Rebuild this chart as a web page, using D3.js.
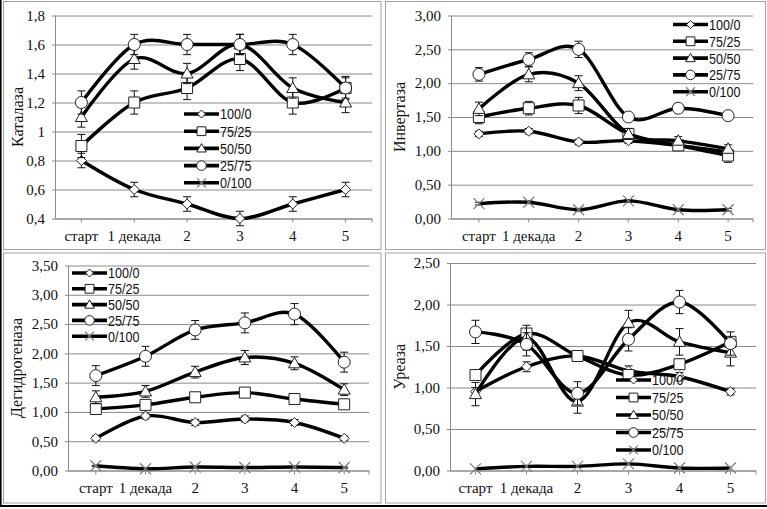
<!DOCTYPE html>
<html><head><meta charset="utf-8">
<script src="https://cdn.jsdelivr.net/npm/d3@7"></script>
<style>
html,body{margin:0;padding:0;background:#fff;}
svg{display:block;}
.serif{font-family:"Liberation Serif","Times New Roman","DejaVu Serif","Noto Serif",serif !important;}
.narrow{font-family:"Liberation Sans Narrow","Arial Narrow","Liberation Sans",Arial,sans-serif !important;}
</style></head>
<body>
<svg id="chart" width="767" height="509"></svg>
<script>
// ---------- DATA ----------
const categories = ["старт", "1 декада", "2", "3", "4", "5"];
const seriesNames = ["100/0", "75/25", "50/50", "25/75", "0/100"];

// Каталаза
const catalaseTicks = [0.4, 0.6, 0.8, 1.0, 1.2, 1.4, 1.6, 1.8];
const catalaseTickLabels = ["0,4", "0,6", "0,8", "1", "1,2", "1,4", "1,6", "1,8"];
const catalase100_0 = [0.8, 0.6, 0.5, 0.4, 0.5, 0.6];
const catalase75_25 = [0.9, 1.2, 1.3, 1.5, 1.2, 1.3];
const catalase50_50 = [1.1, 1.5, 1.4, 1.6, 1.3, 1.2];
const catalase25_75 = [1.2, 1.6, 1.6, 1.6, 1.6, 1.3];
const catalase0_100 = [null, null, null, null, null, null];
const catalaseErr100_0 = [0.05, 0.05, 0.05, 0.05, 0.05, 0.05];
const catalaseErr75_25 = [0.08, 0.08, 0.08, 0.08, 0.08, 0.08];
const catalaseErr50_50 = [0.07, 0.07, 0.07, 0.07, 0.07, 0.07];
const catalaseErr25_75 = [0.08, 0.07, 0.07, 0.07, 0.07, 0.07];
const catalaseErr0_100 = [0, 0, 0, 0, 0, 0];

// Инвертаза
const invertaseTicks = [0, 0.5, 1.0, 1.5, 2.0, 2.5, 3.0];
const invertaseTickLabels = ["0,00", "0,50", "1,00", "1,50", "2,00", "2,50", "3,00"];
const invertase100_0 = [1.25, 1.29, 1.13, 1.15, 1.08, 0.98];
const invertase75_25 = [1.50, 1.63, 1.67, 1.25, 1.08, 0.93];
const invertase50_50 = [1.62, 2.13, 2.00, 1.25, 1.15, 1.03];
const invertase25_75 = [2.13, 2.35, 2.50, 1.50, 1.63, 1.52];
const invertase0_100 = [0.22, 0.24, 0.13, 0.26, 0.13, 0.13];
const invertaseErr100_0 = [0.04, 0.04, 0.04, 0.04, 0.04, 0.04];
const invertaseErr75_25 = [0.10, 0.10, 0.12, 0.08, 0.06, 0.10];
const invertaseErr50_50 = [0.10, 0.11, 0.11, 0.08, 0.06, 0.06];
const invertaseErr25_75 = [0.10, 0.10, 0.12, 0.05, 0.05, 0.05];
const invertaseErr0_100 = [0.02, 0.02, 0.02, 0.02, 0.02, 0.02];

// Дегидрогеназа
const dehydrogenaseTicks = [0, 0.5, 1.0, 1.5, 2.0, 2.5, 3.0, 3.5];
const dehydrogenaseTickLabels = ["0,00", "0,50", "1,00", "1,50", "2,00", "2,50", "3,00", "3,50"];
const dehydrogenase100_0 = [0.55, 0.93, 0.82, 0.88, 0.82, 0.55];
const dehydrogenase75_25 = [1.05, 1.12, 1.25, 1.33, 1.22, 1.13];
const dehydrogenase50_50 = [1.25, 1.35, 1.68, 1.93, 1.83, 1.38];
const dehydrogenase25_75 = [1.62, 1.95, 2.40, 2.52, 2.67, 1.85];
const dehydrogenase0_100 = [0.08, 0.03, 0.06, 0.05, 0.06, 0.05];
const dehydrogenaseErr100_0 = [0.04, 0.05, 0.05, 0.05, 0.05, 0.04];
const dehydrogenaseErr75_25 = [0.05, 0.05, 0.05, 0.05, 0.05, 0.05];
const dehydrogenaseErr50_50 = [0.11, 0.10, 0.10, 0.12, 0.11, 0.10];
const dehydrogenaseErr25_75 = [0.17, 0.17, 0.16, 0.17, 0.18, 0.17];
const dehydrogenaseErr0_100 = [0.01, 0.01, 0.01, 0.01, 0.01, 0.01];

// Уреаза
const ureaseTicks = [0, 0.5, 1.0, 1.5, 2.0, 2.5];
const ureaseTickLabels = ["0,00", "0,50", "1,00", "1,50", "2,00", "2,50"];
const urease100_0 = [0.95, 1.25, 1.38, 1.20, 1.13, 0.95];
const urease75_25 = [1.15, 1.65, 1.38, 1.15, 1.28, 1.55];
const urease50_50 = [0.92, 1.60, 0.83, 1.78, 1.55, 1.42];
const urease25_75 = [1.67, 1.52, 0.93, 1.58, 2.03, 1.53];
const urease0_100 = [0.02, 0.05, 0.05, 0.08, 0.03, 0.03];
const ureaseErr100_0 = [0.05, 0.06, 0.06, 0.06, 0.05, 0.04];
const ureaseErr75_25 = [0.06, 0.06, 0.06, 0.06, 0.06, 0.06];
const ureaseErr50_50 = [0.14, 0.15, 0.14, 0.15, 0.16, 0.16];
const ureaseErr25_75 = [0.14, 0.14, 0.14, 0.14, 0.14, 0.14];
const ureaseErr0_100 = [0, 0, 0, 0, 0, 0];

// ---------- LAYOUT (not data) ----------
const panels = [
  { title: "Каталаза", ticks: catalaseTicks, tickLabels: catalaseTickLabels,
    values: [catalase100_0, catalase75_25, catalase50_50, catalase25_75, catalase0_100],
    errors: [catalaseErr100_0, catalaseErr75_25, catalaseErr50_50, catalaseErr25_75, catalaseErr0_100],
    frame: [3.5, 1.5, 381, 249.5], axisX: 55, x0: 55, x1: 372, y0: 218.5, y1: 15.5,
    titleX: 17, legend: { x: 184, y: 114, dy: 17.2 } },
  { title: "Инвертаза", ticks: invertaseTicks, tickLabels: invertaseTickLabels,
    values: [invertase100_0, invertase75_25, invertase50_50, invertase25_75, invertase0_100],
    errors: [invertaseErr100_0, invertaseErr75_25, invertaseErr50_50, invertaseErr25_75, invertaseErr0_100],
    frame: [385.5, 1.5, 765.5, 249.5], axisX: 451, x0: 454, x1: 753, y0: 218.5, y1: 15.5,
    titleX: 399, legend: { x: 673, y: 24.5, dy: 16.8 } },
  { title: "Дегидрогеназа", ticks: dehydrogenaseTicks, tickLabels: dehydrogenaseTickLabels,
    values: [dehydrogenase100_0, dehydrogenase75_25, dehydrogenase50_50, dehydrogenase25_75, dehydrogenase0_100],
    errors: [dehydrogenaseErr100_0, dehydrogenaseErr75_25, dehydrogenaseErr50_50, dehydrogenaseErr25_75, dehydrogenaseErr0_100],
    frame: [3.5, 253, 381, 503], axisX: 68, x0: 71, x1: 369, y0: 470.5, y1: 265.5,
    titleX: 16, legend: { x: 72, y: 273, dy: 15.8 } },
  { title: "Уреаза", ticks: ureaseTicks, tickLabels: ureaseTickLabels,
    values: [urease100_0, urease75_25, urease50_50, urease25_75, urease0_100],
    errors: [ureaseErr100_0, ureaseErr75_25, ureaseErr50_50, ureaseErr25_75, ureaseErr0_100],
    frame: [385.5, 253, 765.5, 503], axisX: 450, x0: 450, x1: 756, y0: 470.5, y1: 263,
    titleX: 399, legend: { x: 616, y: 380, dy: 17.5 } }
];

const svg = d3.select("#chart");
const GRID = "#8a8a8a";
const FRAME = "#a3a3a3";

// outer black border (scan edges)
svg.append("line").attr("x1", 0.8).attr("x2", 0.8).attr("y1", 0).attr("y2", 507).attr("stroke", "#000").attr("stroke-width", 1.6);
svg.append("line").attr("x1", 0).attr("x2", 767).attr("y1", 506).attr("y2", 506).attr("stroke", "#000").attr("stroke-width", 2);

// marker shapes
function markerPath(type, s) {
  switch (type) {
    case 0: { const r = 5 * s; return `M0,${-r}L${r},0L0,${r}L${-r},0Z`; }
    case 1: { const h = 5.5 * s; return `M${-h},${-h}H${h}V${h}H${-h}Z`; }
    case 2: { const w = 6 * s, t = 6 * s, b = 4.5 * s; return `M0,${-t}L${w},${b}L${-w},${b}Z`; }
    case 3: { const r = 6 * s; return `M${r},0A${r},${r} 0 1,1 ${-r},0A${r},${r} 0 1,1 ${r},0Z`; }
    case 4: { const h = 5.5 * s; return `M${-h},${-h}L${h},${h}M${h},${-h}L${-h},${h}`; }
  }
}
function drawMarker(g, type, x, y, s) {
  const p = g.append("path").attr("d", markerPath(type, s)).attr("transform", `translate(${x},${y})`);
  if (type === 4) p.attr("fill", "none").attr("stroke", "#808080").attr("stroke-width", 1.3);
  else p.attr("fill", "#fff").attr("stroke", "#222").attr("stroke-width", 1);
}

panels.forEach(P => {
  const g = svg.append("g");
  const [fx0, fy0, fx1, fy1] = P.frame;
  g.append("rect").attr("x", fx0).attr("y", fy0).attr("width", fx1 - fx0).attr("height", fy1 - fy0)
    .attr("fill", "#fff").attr("stroke", FRAME).attr("stroke-width", 1);

  const x = d3.scaleBand().domain(categories).range([P.x0, P.x1]);
  const y = d3.scaleLinear().domain([P.ticks[0], P.ticks[P.ticks.length - 1]]).range([P.y0, P.y1]);

  // gridlines + y labels via axis
  const yAxis = d3.axisLeft(y).tickValues(P.ticks)
    .tickFormat((d, i) => P.tickLabels[i]).tickSize(-(P.x1 - P.axisX)).tickPadding(10);
  const ya = g.append("g").attr("transform", `translate(${P.axisX},0)`).call(yAxis);
  ya.attr("font-family", null).attr("font-size", null);
  ya.select(".domain").remove();
  ya.selectAll(".tick line").attr("stroke", GRID).attr("stroke-width", 1).attr("x1", -3);
  ya.selectAll(".tick text").attr("class", "serif").style("font-size", "15px").attr("fill", "#111");
  g.append("line").attr("x1", P.axisX + 0.5).attr("x2", P.axisX + 0.5).attr("y1", P.y1).attr("y2", P.y0)
    .attr("stroke", GRID).attr("stroke-width", 1);

  // x axis
  const xAxis = d3.axisBottom(x).tickSize(4).tickPadding(8);
  const xa = g.append("g").attr("transform", `translate(0,${P.y0})`).call(xAxis);
  xa.attr("font-family", null).attr("font-size", null);
  xa.select(".domain").attr("stroke", GRID).attr("d", `M${P.axisX},0.5H${P.x1}`);
  xa.selectAll(".tick line").attr("stroke", GRID);
  xa.selectAll(".tick text").attr("class", "serif").style("font-size", "15px").attr("fill", "#111");
  g.append("line").attr("x1", P.x1).attr("x2", P.x1).attr("y1", P.y0).attr("y2", P.y0 + 4).attr("stroke", GRID);

  // y title
  g.append("text").attr("class", "serif")
    .attr("transform", `translate(${P.titleX},${(P.y0 + P.y1) / 2}) rotate(-90)`)
    .attr("text-anchor", "middle").attr("dominant-baseline", "central")
    .style("font-size", "16px").attr("fill", "#111").text(P.title);

  const cx = c => x(c) + x.bandwidth() / 2;
  const line = d3.line().defined(d => d.v != null).x(d => cx(d.c)).y(d => y(d.v))
    .curve(d3.curveCardinal.tension(0));

  // series: line, error bars, markers
  P.values.forEach((vals, si) => {
    const pts = vals.map((v, i) => ({ c: categories[i], v: v, e: P.errors[si][i] }));
    const sg = g.append("g");
    sg.append("path").datum(pts).attr("d", line).attr("fill", "none")
      .attr("stroke", "#000").attr("stroke-width", 3.4).attr("stroke-linejoin", "round");
    pts.filter(d => d.v != null && d.e > 0).forEach(d => {
      const xx = cx(d.c), ya1 = y(d.v + d.e), ya2 = y(d.v - d.e);
      sg.append("path").attr("d", `M${xx},${ya1}V${ya2}M${xx - 4},${ya1}H${xx + 4}M${xx - 4},${ya2}H${xx + 4}`)
        .attr("stroke", "#111").attr("stroke-width", 1).attr("fill", "none");
    });
    pts.filter(d => d.v != null).forEach(d => drawMarker(sg, si, cx(d.c), y(d.v), 1));
  });

  // legend
  const L = P.legend;
  seriesNames.forEach((name, i) => {
    const ly = L.y + i * L.dy;
    g.append("line").attr("x1", L.x).attr("x2", L.x + 35).attr("y1", ly).attr("y2", ly)
      .attr("stroke", "#000").attr("stroke-width", 3.6);
    drawMarker(g, i, L.x + 17.5, ly, 0.8);
    g.append("text").attr("class", "narrow")
      .attr("transform", `translate(${L.x + 36},${ly}) scale(0.84,1)`)
      .attr("dominant-baseline", "central")
      .style("font-size", "15px").attr("fill", "#111").text(name);
  });
});
</script>
</body></html>
